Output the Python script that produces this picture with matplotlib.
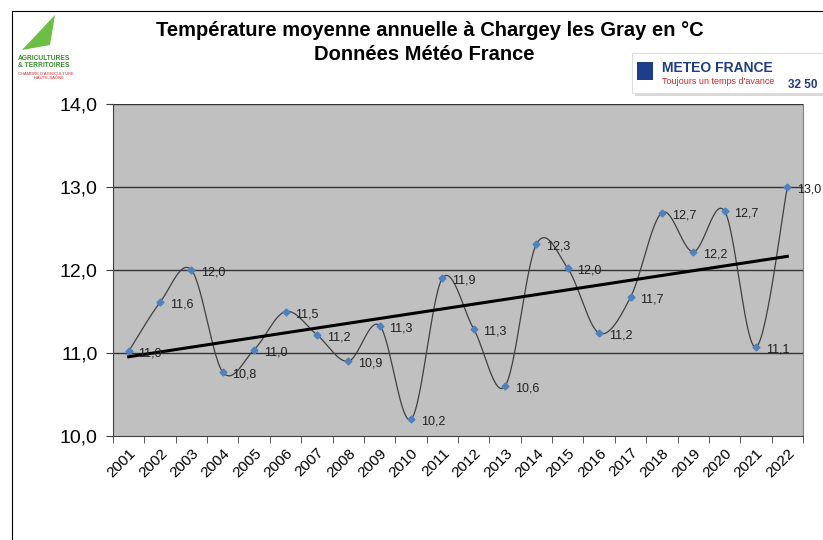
import numpy as np
import matplotlib.pyplot as plt
import matplotlib.transforms as mtrans
from matplotlib.patches import Rectangle, Polygon

plt.rcParams['font.family'] = ['Liberation Sans', 'DejaVu Sans']

years = list(range(2001, 2023))
temps = [11.02, 11.61, 12.00, 10.77, 11.04, 11.50, 11.22, 10.90, 11.33, 10.20, 11.90,
         11.29, 10.60, 12.31, 12.02, 11.24, 11.67, 12.69, 12.22, 12.71, 11.07, 13.00]
yticks = [10, 11, 12, 13, 14]


def smooth(x, y, n=30):
    # Bezier smoothing like the spreadsheet "smoothed line"
    x = np.asarray(x, float); y = np.asarray(y, float)
    px = np.concatenate([[x[0]], x, [x[-1]]])
    py = np.concatenate([[y[0]], y, [y[-1]]])
    xs, ys = [], []
    t = np.linspace(0, 1, n)
    for i in range(1, len(px) - 2):
        p0 = np.array([px[i], py[i]]); p3 = np.array([px[i + 1], py[i + 1]])
        p1 = p0 + (np.array([px[i + 1], py[i + 1]]) - np.array([px[i - 1], py[i - 1]])) / 6
        p2 = p3 - (np.array([px[i + 2], py[i + 2]]) - np.array([px[i], py[i]])) / 6
        b = ((1 - t) ** 3)[:, None] * p0 + (3 * (1 - t) ** 2 * t)[:, None] * p1 \
            + (3 * (1 - t) * t ** 2)[:, None] * p2 + (t ** 3)[:, None] * p3
        xs.extend(b[:, 0]); ys.extend(b[:, 1])
    return xs, ys


fig = plt.figure(figsize=(8.23, 5.4), dpi=100)
ax = fig.add_axes([113 / 823, 1 - 436 / 540, 690 / 823, 332 / 540])
ax.set_facecolor('#C0C0C0')

x = np.arange(len(years))
sx, sy = smooth(x, temps)
ax.plot(sx, sy, color='#404040', lw=0.9, zorder=3)
ax.plot(x, temps, ls='none', marker='D', ms=3.5, color='#4F81BD', zorder=4)

a, b = np.polyfit(x, temps, 1)
ax.plot([x[0], x[-1]], [a * x[0] + b, a * x[-1] + b], color='black', lw=2.2, zorder=5)

for xi, v in zip(x, temps):
    ax.annotate(f"{v:.1f}".replace('.', ','), (xi, v), xytext=(7, -4),
                textcoords='offset points', fontsize=9, color='#202020', zorder=6)

ax.set_xlim(-0.5, len(years) - 0.5)
ax.set_ylim(10, 14)
ax.set_yticks(yticks)
ax.set_yticklabels([f"{t:.1f}".replace('.', ',') for t in yticks], fontsize=14)
for t in yticks[1:]:
    ax.axhline(t, color='#333333', lw=1, zorder=1)
ax.set_xticks(x)
ax.set_xticklabels([str(yr) for yr in years], rotation=45, ha='right',
                   rotation_mode='anchor', fontsize=11)
shift = mtrans.ScaledTranslation(-5 / 100, 0, fig.dpi_scale_trans)
for lab in ax.get_xticklabels():
    lab.set_transform(lab.get_transform() + shift)
ax.set_xticks(np.arange(-0.5, len(years)), minor=True)
ax.tick_params(axis='x', which='major', length=0, pad=7)
ax.tick_params(axis='x', which='minor', length=5, direction='out', color='#404040')
ax.tick_params(axis='y', length=5, direction='out', color='#404040', pad=6)
for s in ['left', 'bottom']:
    ax.spines[s].set_color('#404040')
ax.spines['right'].set_color('#808080')
ax.spines['top'].set_visible(False)

fig.text(0.522, 1 - 30 / 540, "Température moyenne annuelle à Chargey les Gray en °C",
         ha='center', va='center', fontsize=14.5, fontweight='bold')
fig.text(0.515, 1 - 55 / 540, "Données Météo France",
         ha='center', va='center', fontsize=14.5, fontweight='bold')

# frame around the picture
fig.patches.append(Rectangle((12 / 823, -0.01), 1, 1 - 11 / 540 + 0.01, transform=fig.transFigure,
                             fill=False, ec='black', lw=0.8))

# left logo (approximation)
fig.patches.append(Polygon([(22 / 823, 1 - 50 / 540), (55 / 823, 1 - 15 / 540),
                            (50 / 823, 1 - 45 / 540)], closed=True, transform=fig.transFigure,
                           fc='#6DBE45', ec='none'))
fig.text(18 / 823, 1 - 62 / 540, "AGRICULTURES\n& TERRITOIRES", color='#3B8E2E',
         fontsize=4.8, fontweight='bold', va='center', linespacing=1.1)
fig.text(18 / 823, 1 - 76 / 540, "CHAMBRE D'AGRICULTURE\n              HAUTE-SAÔNE",
         color='#D9262E', fontsize=3, va='center')

# right logo (approximation)
fig.patches.append(Rectangle((635 / 823, 1 - 96 / 540), 200 / 823, 40 / 540,
                             transform=fig.transFigure, fc='#D8D8D8', ec='none'))
fig.patches.append(Rectangle((632 / 823, 1 - 93 / 540), 200 / 823, 40 / 540,
                             transform=fig.transFigure, fc='white', ec='#DDDDDD', lw=0.8))
fig.text(662 / 823, 1 - 68 / 540, "METEO FRANCE", color='#1F3C88', fontsize=10,
         fontweight='bold', va='center')
fig.text(662 / 823, 1 - 82 / 540, "Toujours un temps d'avance", color='#D9262E',
         fontsize=6.5, va='center')
fig.text(788 / 823, 1 - 85 / 540, "32 50", color='#1F3C88', fontsize=8.5,
         fontweight='bold', va='center')
fig.patches.append(Rectangle((637 / 823, 1 - 80 / 540), 16 / 823, 18 / 540,
                             transform=fig.transFigure, fc='#1F3C88', ec='none'))

fig.savefig('out.png', dpi=100)
